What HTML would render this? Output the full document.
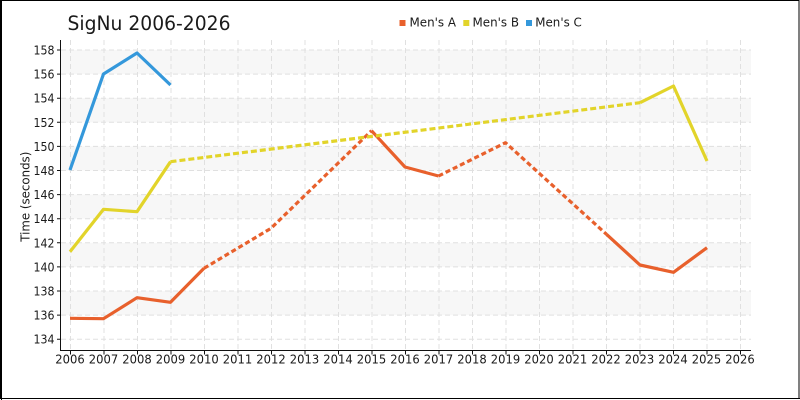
<!DOCTYPE html>
<html><head><meta charset="utf-8"><style>
html,body{margin:0;padding:0;background:#fff;}
svg{display:block;}
text{font-family:"DejaVu Sans","Liberation Sans",sans-serif;fill:#1a1a1a;}
</style></head><body>
<svg width="800" height="400" viewBox="0 0 800 400" xmlns="http://www.w3.org/2000/svg">
<rect x="0" y="0" width="800" height="400" fill="#fff"/>
<!-- border -->
<rect x="0.5" y="0.5" width="798.5" height="398" fill="none" stroke="#000" stroke-width="1"/>
<line x1="1.5" y1="0" x2="1.5" y2="400" stroke="#000" stroke-width="1"/>
<line x1="0" y1="398.5" x2="800" y2="398.5" stroke="#000" stroke-width="1"/>

<!-- bands -->
<g fill="#f7f7f7">
<rect x="61" y="50" width="690" height="24.1"/>
<rect x="61" y="98.2" width="690" height="24.1"/>
<rect x="61" y="146.4" width="690" height="24.1"/>
<rect x="61" y="194.6" width="690" height="24.1"/>
<rect x="61" y="242.8" width="690" height="24.1"/>
<rect x="61" y="291" width="690" height="24.1"/>
</g>

<!-- grid -->
<g stroke="#e0e0e0" stroke-width="1" stroke-dasharray="5,3" fill="none">
<line x1="61" x2="751" y1="50" y2="50"/>
<line x1="61" x2="751" y1="74.1" y2="74.1"/>
<line x1="61" x2="751" y1="98.2" y2="98.2"/>
<line x1="61" x2="751" y1="122.3" y2="122.3"/>
<line x1="61" x2="751" y1="146.4" y2="146.4"/>
<line x1="61" x2="751" y1="170.5" y2="170.5"/>
<line x1="61" x2="751" y1="194.6" y2="194.6"/>
<line x1="61" x2="751" y1="218.7" y2="218.7"/>
<line x1="61" x2="751" y1="242.8" y2="242.8"/>
<line x1="61" x2="751" y1="266.9" y2="266.9"/>
<line x1="61" x2="751" y1="291" y2="291"/>
<line x1="61" x2="751" y1="315.1" y2="315.1"/>
<line x1="61" x2="751" y1="339.2" y2="339.2"/>
<line y1="40" y2="350" x1="70.5" x2="70.5"/>
<line y1="40" y2="350" x1="104" x2="104"/>
<line y1="40" y2="350" x1="137.5" x2="137.5"/>
<line y1="40" y2="350" x1="171" x2="171"/>
<line y1="40" y2="350" x1="204.5" x2="204.5"/>
<line y1="40" y2="350" x1="238" x2="238"/>
<line y1="40" y2="350" x1="271.5" x2="271.5"/>
<line y1="40" y2="350" x1="305" x2="305"/>
<line y1="40" y2="350" x1="338.5" x2="338.5"/>
<line y1="40" y2="350" x1="372" x2="372"/>
<line y1="40" y2="350" x1="405.5" x2="405.5"/>
<line y1="40" y2="350" x1="439" x2="439"/>
<line y1="40" y2="350" x1="472.5" x2="472.5"/>
<line y1="40" y2="350" x1="506" x2="506"/>
<line y1="40" y2="350" x1="539.5" x2="539.5"/>
<line y1="40" y2="350" x1="573" x2="573"/>
<line y1="40" y2="350" x1="606.5" x2="606.5"/>
<line y1="40" y2="350" x1="640" x2="640"/>
<line y1="40" y2="350" x1="673.5" x2="673.5"/>
<line y1="40" y2="350" x1="707" x2="707"/>
<line y1="40" y2="350" x1="740.5" x2="740.5"/>
</g>

<!-- axes -->
<g stroke="#111" stroke-width="1" fill="none">
<line x1="60.5" y1="40" x2="60.5" y2="350.5"/>
<line x1="60" y1="350.5" x2="751" y2="350.5"/>
<path d="M57 50H61M57 74.1H61M57 98.2H61M57 122.3H61M57 146.4H61M57 170.5H61M57 194.6H61M57 218.7H61M57 242.8H61M57 266.9H61M57 291H61M57 315.1H61M57 339.2H61"/>
<path d="M70.5 350V354.5M104 350V354.5M137.5 350V354.5M171 350V354.5M204.5 350V354.5M238 350V354.5M271.5 350V354.5M305 350V354.5M338.5 350V354.5M372 350V354.5M405.5 350V354.5M439 350V354.5M472.5 350V354.5M506 350V354.5M539.5 350V354.5M573 350V354.5M606.5 350V354.5M640 350V354.5M673.5 350V354.5M707 350V354.5M740.5 350V354.5"/>
</g>

<!-- y labels -->
<g font-size="12.3" text-anchor="end">
<text x="54.5" y="54.5" textLength="21" lengthAdjust="spacingAndGlyphs">158</text>
<text x="54.5" y="78.6" textLength="21" lengthAdjust="spacingAndGlyphs">156</text>
<text x="54.5" y="102.7" textLength="21" lengthAdjust="spacingAndGlyphs">154</text>
<text x="54.5" y="126.8" textLength="21" lengthAdjust="spacingAndGlyphs">152</text>
<text x="54.5" y="150.9" textLength="21" lengthAdjust="spacingAndGlyphs">150</text>
<text x="54.5" y="175" textLength="21" lengthAdjust="spacingAndGlyphs">148</text>
<text x="54.5" y="199.1" textLength="21" lengthAdjust="spacingAndGlyphs">146</text>
<text x="54.5" y="223.2" textLength="21" lengthAdjust="spacingAndGlyphs">144</text>
<text x="54.5" y="247.3" textLength="21" lengthAdjust="spacingAndGlyphs">142</text>
<text x="54.5" y="271.4" textLength="21" lengthAdjust="spacingAndGlyphs">140</text>
<text x="54.5" y="295.5" textLength="21" lengthAdjust="spacingAndGlyphs">138</text>
<text x="54.5" y="319.6" textLength="21" lengthAdjust="spacingAndGlyphs">136</text>
<text x="54.5" y="343.7" textLength="21" lengthAdjust="spacingAndGlyphs">134</text>
</g>
<!-- x labels -->
<g font-size="12.3" text-anchor="middle">
<text x="70" y="363.5" textLength="29.4" lengthAdjust="spacingAndGlyphs">2006</text>
<text x="103.5" y="363.5" textLength="29.4" lengthAdjust="spacingAndGlyphs">2007</text>
<text x="137" y="363.5" textLength="29.4" lengthAdjust="spacingAndGlyphs">2008</text>
<text x="170.5" y="363.5" textLength="29.4" lengthAdjust="spacingAndGlyphs">2009</text>
<text x="204" y="363.5" textLength="29.4" lengthAdjust="spacingAndGlyphs">2010</text>
<text x="237.5" y="363.5" textLength="29.4" lengthAdjust="spacingAndGlyphs">2011</text>
<text x="271" y="363.5" textLength="29.4" lengthAdjust="spacingAndGlyphs">2012</text>
<text x="304.5" y="363.5" textLength="29.4" lengthAdjust="spacingAndGlyphs">2013</text>
<text x="338" y="363.5" textLength="29.4" lengthAdjust="spacingAndGlyphs">2014</text>
<text x="371.5" y="363.5" textLength="29.4" lengthAdjust="spacingAndGlyphs">2015</text>
<text x="405" y="363.5" textLength="29.4" lengthAdjust="spacingAndGlyphs">2016</text>
<text x="438.5" y="363.5" textLength="29.4" lengthAdjust="spacingAndGlyphs">2017</text>
<text x="472" y="363.5" textLength="29.4" lengthAdjust="spacingAndGlyphs">2018</text>
<text x="505.5" y="363.5" textLength="29.4" lengthAdjust="spacingAndGlyphs">2019</text>
<text x="539" y="363.5" textLength="29.4" lengthAdjust="spacingAndGlyphs">2020</text>
<text x="572.5" y="363.5" textLength="29.4" lengthAdjust="spacingAndGlyphs">2021</text>
<text x="606" y="363.5" textLength="29.4" lengthAdjust="spacingAndGlyphs">2022</text>
<text x="639.5" y="363.5" textLength="29.4" lengthAdjust="spacingAndGlyphs">2023</text>
<text x="673" y="363.5" textLength="29.4" lengthAdjust="spacingAndGlyphs">2024</text>
<text x="706.5" y="363.5" textLength="29.4" lengthAdjust="spacingAndGlyphs">2025</text>
<text x="740" y="363.5" textLength="29.4" lengthAdjust="spacingAndGlyphs">2026</text>
</g>

<text font-size="12" text-anchor="middle" textLength="90" lengthAdjust="spacingAndGlyphs" transform="translate(29.5,196.7) rotate(-90)">Time (seconds)</text>

<!-- title -->
<text x="67.5" y="30" font-size="19.5" textLength="163" lengthAdjust="spacingAndGlyphs">SigNu 2006-2026</text>

<!-- legend -->
<rect x="399.5" y="20" width="6" height="6" fill="#e8602c"/>
<text x="409.5" y="26.7" font-size="12.8" textLength="46.5" lengthAdjust="spacingAndGlyphs">Men's A</text>
<rect x="463.3" y="20" width="6" height="6" fill="#e2d42a"/>
<text x="472.5" y="26.7" font-size="12.8" textLength="46.5" lengthAdjust="spacingAndGlyphs">Men's B</text>
<rect x="526" y="20" width="6" height="6" fill="#3498db"/>
<text x="535.3" y="26.7" font-size="12.8" textLength="46.5" lengthAdjust="spacingAndGlyphs">Men's C</text>

<!-- Men's A -->
<g stroke="#e8602c" stroke-width="3.2" fill="none" stroke-linejoin="round">
<polyline points="70,318.3 103.5,318.7 137,297.7 170.5,302.3 204,268.3"/>
<polyline stroke-dasharray="5,3" points="204,268.3 271,228.3 371.5,130.7"/>
<polyline points="371.5,130.7 405,167 438.5,176"/>
<polyline stroke-dasharray="5,3" points="438.5,176 505.5,142.7 606.5,234.3"/>
<polyline points="606.5,234.3 640,265 673.5,272.3 707,247.7"/>
</g>
<!-- Men's B -->
<g stroke="#e2d42a" stroke-width="3.2" fill="none" stroke-linejoin="round">
<polyline points="70,251.7 103.5,209.3 137,211.7 170.5,161.7"/>
<polyline stroke-dasharray="6,3" points="170.5,161.7 640,102.7"/>
<polyline points="640,102.7 673.5,86 707,161"/>
</g>
<!-- Men's C -->
<g stroke="#3498db" stroke-width="3.2" fill="none" stroke-linejoin="round">
<polyline points="70,170 103.5,74 137,53 170.5,85"/>
</g>
</svg>
</body></html>
